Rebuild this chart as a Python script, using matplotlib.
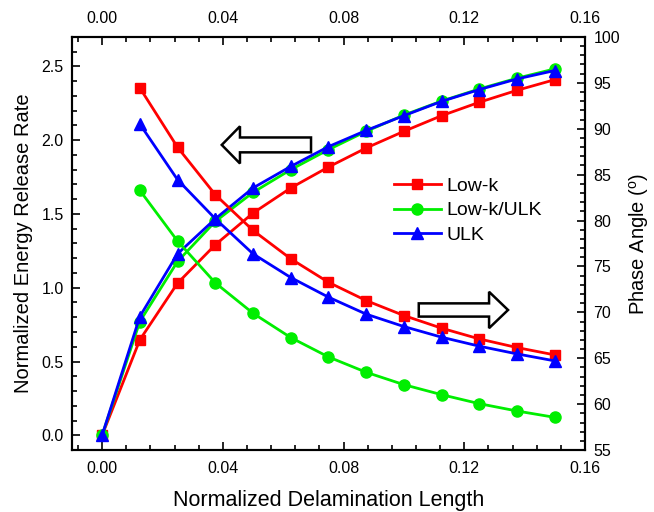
import matplotlib
matplotlib.use("Agg")
from matplotlib import pyplot
from matplotlib.patches import FancyArrow

pyplot.rcParams["font.family"] = ["Liberation Sans", "DejaVu Sans"]
pyplot.rcParams["mathtext.fontset"] = "custom"
pyplot.rcParams["mathtext.rm"] = "Liberation Sans"

# normalized delamination length
length = [0.0, 0.0125, 0.025, 0.0375, 0.05, 0.0625, 0.075,
          0.0875, 0.1, 0.1125, 0.125, 0.1375, 0.15]

# energy release rate (left axis)
err_lowk = [0.0, 0.647, 1.031, 1.291, 1.506, 1.676, 1.818,
            1.947, 2.06, 2.166, 2.257, 2.338, 2.41]
err_lowk_ulk = [0.0, 0.771, 1.178, 1.449, 1.646, 1.80, 1.936,
                2.06, 2.17, 2.265, 2.347, 2.42, 2.483]
err_ulk = [0.0, 0.805, 1.23, 1.467, 1.676, 1.822, 1.956,
           2.066, 2.166, 2.263, 2.343, 2.415, 2.472]

# phase angle (right axis), starts at first nonzero length
angle_lowk = [94.44, 87.97, 82.81, 78.92, 75.83, 73.27,
              71.28, 69.65, 68.27, 67.1, 66.16, 65.36]
angle_lowk_ulk = [83.28, 77.76, 73.21, 69.9, 67.25, 65.14,
                  63.47, 62.12, 61.03, 60.05, 59.25, 58.56]
angle_ulk = [90.5, 84.44, 80.19, 76.37, 73.79, 71.65,
             69.8, 68.45, 67.29, 66.31, 65.47, 64.71]

labels = ["Low-k", "Low-k/ULK", "ULK"]
colors = ["#ff0000", "#00ee00", "#0000ff"]
markers = ["s", "o", "^"]
msizes = [7.5, 8, 8.5]

fig = pyplot.figure(figsize=(6.54, 5.12), dpi=100)
ax = fig.add_axes([0.110, 0.121, 0.7845, 0.807])
ax2 = ax.twinx()

handles = []
for err, ang, lab, c, m, ms in zip([err_lowk, err_lowk_ulk, err_ulk],
                                   [angle_lowk, angle_lowk_ulk, angle_ulk],
                                   labels, colors, markers, msizes):
    h, = ax.plot(length, err, "-", marker=m, color=c, lw=2.0, ms=ms,
                 label=lab)
    ax2.plot(length[1:], ang, "-", marker=m, color=c, lw=2.0, ms=ms)
    handles.append(h)

ax.set_xlim(-0.01, 0.16)
ax.set_ylim(-0.1, 2.7)
ax2.set_ylim(55, 100)

ax.set_xticks([0.0, 0.04, 0.08, 0.12, 0.16])
ax.set_xticklabels(["0.00", "0.04", "0.08", "0.12", "0.16"])
ax.set_xticks([-0.008 + 0.008 * i for i in range(22)], minor=True)
ax.set_yticks([0.0, 0.5, 1.0, 1.5, 2.0, 2.5])
ax.set_yticks([-0.1 + 0.1 * i for i in range(29)], minor=True)
ax2.set_yticks(range(55, 101, 5))
ax2.set_yticks(range(55, 101), minor=True)

ax.xaxis.set_ticks_position("both")
ax.tick_params(which="both", direction="in", labelsize=11.5, width=1.2,
               labeltop=True)
ax.tick_params(which="major", length=6)
ax.tick_params(which="minor", length=3.5)
ax.tick_params(axis="x", pad=8)
ax.tick_params(axis="y", pad=6)
ax2.tick_params(which="both", direction="in", labelsize=11.5, width=1.2,
                pad=6)
ax2.tick_params(which="major", length=6)
ax2.tick_params(which="minor", length=3.5)
for a in (ax, ax2):
    for s in a.spines.values():
        s.set_linewidth(1.5)

ax.set_xlabel("Normalized Delamination Length", fontsize=15.5, labelpad=10)
ax.set_ylabel("Normalized Energy Release Rate", fontsize=14.5, labelpad=6)
ax2.set_ylabel(r"Phase Angle ($^\mathrm{o}$)", fontsize=14.5, labelpad=5)

ax2.legend(handles, labels, loc="upper left", bbox_to_anchor=(0.628, 0.661),
           frameon=False, fontsize=14, handlelength=2.4, handletextpad=0.3,
           labelspacing=0.37, borderpad=0, borderaxespad=0)

ax2.add_patch(FancyArrow(0.466, 0.7385, -0.174, 0, width=0.036,
                         head_width=0.09, head_length=0.0355,
                         length_includes_head=True, transform=ax.transAxes,
                         facecolor="white", edgecolor="black", lw=1.8,
                         zorder=5))
ax2.add_patch(FancyArrow(0.676, 0.339, 0.174, 0, width=0.032,
                         head_width=0.088, head_length=0.037,
                         length_includes_head=True, transform=ax.transAxes,
                         facecolor="white", edgecolor="black", lw=1.8,
                         zorder=5))

fig.savefig("out.png", dpi=100)
